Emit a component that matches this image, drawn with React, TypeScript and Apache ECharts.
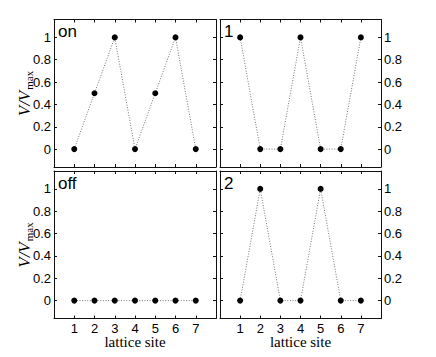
import React, { useEffect, useRef } from "react";
import * as echarts from "echarts";

const sites = [1, 2, 3, 4, 5, 6, 7];
const onValues = [0, 0.5, 1, 0, 0.5, 1, 0];
const state1Values = [1, 0, 0, 1, 0, 0, 1];
const offValues = [0, 0, 0, 0, 0, 0, 0];
const state2Values = [0, 1, 0, 0, 1, 0, 0];
const panelLabels = ["on", "1", "off", "2"];
const yTickValues = [0, 0.2, 0.4, 0.6, 0.8, 1];
const xLabelText = "lattice site";

const panelValues = [onValues, state1Values, offValues, state2Values];

const grids = [
  { left: 54, top: 19.5, width: 162, height: 147.5 },
  { left: 220, top: 19.5, width: 161, height: 147.5 },
  { left: 54, top: 171, width: 162, height: 147.5 },
  { left: 220, top: 171, width: 161, height: 147.5 },
];

const SANS = '"Liberation Sans", Arial, sans-serif';
const SERIF = '"Liberation Serif", "Times New Roman", serif';
const FRAME = "#111";

export default function App() {
  const ref = useRef<HTMLDivElement>(null);

  useEffect(() => {
    if (!ref.current) return;
    const chart = echarts.init(ref.current, undefined, { renderer: "svg" });

    const xAxes: any[] = [];
    const yAxes: any[] = [];
    const series: any[] = [];
    const graphics: any[] = [];

    grids.forEach((g, gi) => {
      const isBottom = gi >= 2;
      const isRight = gi % 2 === 1;
      const baseX = {
        type: "value",
        gridIndex: gi,
        min: 0,
        max: 8,
        interval: 1,
        splitLine: { show: false },
        axisLine: { show: true, onZero: false, lineStyle: { color: FRAME, width: 1 } },
        axisTick: {
          show: true,
          inside: true,
          length: 3,
          lineStyle: { color: FRAME },
          customValues: sites,
        },
      };
      xAxes.push({
        ...baseX,
        position: "bottom",
        axisLabel: {
          show: isBottom,
          margin: 3,
          fontFamily: SANS,
          fontSize: 13,
          color: "#000",
          customValues: sites,
          formatter: (v: number) => String(v),
        },
      });
      xAxes.push({
        ...baseX,
        position: "top",
        axisLabel: { show: false },
      });

      const baseY = {
        type: "value",
        gridIndex: gi,
        min: -0.16,
        max: 1.16,
        splitLine: { show: false },
        axisLine: { show: true, onZero: false, lineStyle: { color: FRAME, width: 1 } },
        axisTick: {
          show: true,
          inside: true,
          length: 3,
          lineStyle: { color: FRAME },
          customValues: yTickValues,
        },
      };
      const labelY = {
        show: true,
        margin: 3,
        fontFamily: SANS,
        fontSize: 13,
        color: "#000",
        customValues: yTickValues,
        formatter: (v: number) => String(Math.round(v * 10) / 10),
      };
      yAxes.push({
        ...baseY,
        position: "left",
        axisLabel: isRight ? { show: false } : labelY,
      });
      yAxes.push({
        ...baseY,
        position: "right",
        axisLabel: isRight ? labelY : { show: false },
      });

      series.push({
        type: "line",
        xAxisIndex: gi * 2,
        yAxisIndex: gi * 2,
        data: sites.map((s, i) => [s, panelValues[gi][i]]),
        symbol: "circle",
        symbolSize: 6,
        itemStyle: { color: "#000" },
        lineStyle: { type: [1, 1.6], color: "#777", width: 1 },
        z: 3,
      });

      graphics.push({
        type: "text",
        x: g.left + 4,
        y: g.top + 12,
        style: {
          text: panelLabels[gi],
          font: `17px ${SANS}`,
          fill: "#000",
          align: "left",
          verticalAlign: "middle",
        },
      });

      if (!isRight) {
        const cy = g.top + g.height / 2;
        graphics.push({
          type: "group",
          x: 24,
          y: cy,
          rotation: Math.PI / 2,
          children: [
            {
              type: "text",
              x: -23,
              y: 0,
              style: {
                text: "V/V",
                font: `italic 17px ${SERIF}`,
                fill: "#000",
                align: "left",
                verticalAlign: "middle",
              },
            },
            {
              type: "text",
              x: 3.5,
              y: 5,
              style: {
                text: "max",
                font: `11px ${SERIF}`,
                fill: "#000",
                align: "left",
                verticalAlign: "middle",
              },
            },
          ],
        });
      }
      if (isBottom) {
        graphics.push({
          type: "text",
          x: g.left + g.width / 2,
          y: 342,
          style: {
            text: xLabelText,
            font: `15px ${SERIF}`,
            fill: "#000",
            align: "center",
            verticalAlign: "middle",
          },
        });
      }
    });

    chart.setOption({
      animation: false,
      backgroundColor: "#fff",
      grid: grids.map((g) => ({ ...g, containLabel: false })),
      xAxis: xAxes,
      yAxis: yAxes,
      series,
      graphic: graphics,
    });

    return () => chart.dispose();
  }, []);

  return (
    <div
      ref={ref}
      style={{ position: "fixed", left: 0, top: 0, width: 436, height: 357, background: "#fff" }}
    />
  );
}
